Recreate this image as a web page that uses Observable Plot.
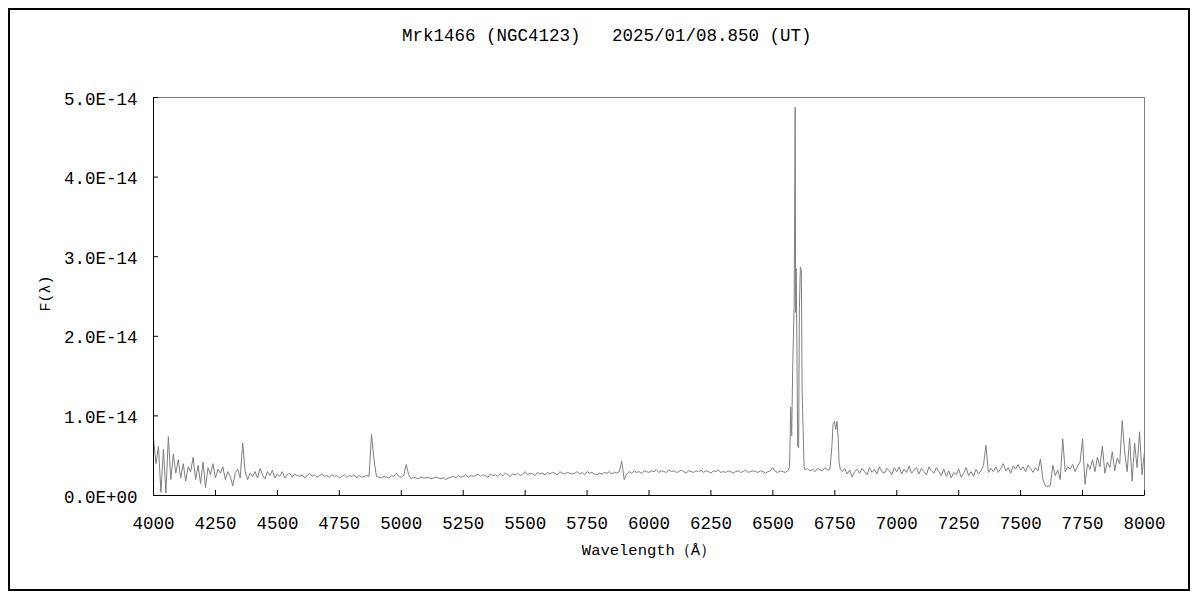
<!DOCTYPE html>
<html>
<head>
<meta charset="utf-8">
<script src="https://cdn.jsdelivr.net/npm/d3@7"></script>
<script src="https://cdn.jsdelivr.net/npm/@observablehq/plot@0.6"></script>
<style>
  html, body { margin: 0; padding: 0; background: #fff; }
  #wrap { position: relative; width: 1200px; height: 600px; overflow: hidden; }
  #border { position: absolute; left: 8px; top: 8px; width: 1178px; height: 579px; border: 2px solid #000; }
  #title { position: absolute; left: 402px; top: 28px; white-space: pre; line-height: 1;
           font-family: "Liberation Mono", "DejaVu Sans Mono", monospace; font-size: 17.5px; color: #000; }
  #chart { position: absolute; left: 0; top: 0; }
</style>
</head>
<body>
<div id="wrap">
  <div id="border"></div>
  <div id="chart"></div>
  <div id="title"></div>
</div>
<script>
// ---- data (flux in units of 1E-14) ----
const gridStart = 4000;      // continuum grid start (Å)
const gridStep = 10;         // grid sampling (Å)
const gridFlux = [
  0.72, 0.40, 0.62, 0.04, 0.58, 0.03, 0.74, 0.20, 0.52, 0.28,   // 4000
  0.45, 0.22, 0.40, 0.18, 0.36, 0.30, 0.48, 0.20, 0.38, 0.15,   // 4100
  0.42, 0.10, 0.35, 0.26, 0.40, 0.22, 0.33, 0.28, 0.36, 0.20,   // 4200
  0.30, 0.24, 0.12, 0.29, 0.33, 0.22, 0.66, 0.30, 0.20, 0.28,   // 4300
  0.24, 0.30, 0.22, 0.34, 0.26, 0.21, 0.30, 0.25, 0.32, 0.22,   // 4400
  0.27, 0.24, 0.30, 0.22, 0.26, 0.28, 0.23, 0.27, 0.25, 0.24,   // 4500
  0.26, 0.22, 0.25, 0.28, 0.24, 0.26, 0.23, 0.25, 0.27, 0.24,   // 4600
  0.25, 0.23, 0.26, 0.24, 0.25, 0.22, 0.24, 0.26, 0.23, 0.25,   // 4700
  0.24, 0.26, 0.22, 0.25, 0.23, 0.24, 0.25, 0.24, 0.77, 0.45,   // 4800
  0.24, 0.23, 0.22, 0.24, 0.23, 0.22, 0.25, 0.24, 0.28, 0.24,   // 4900
  0.23, 0.25, 0.39, 0.26, 0.21, 0.23, 0.22, 0.21, 0.23, 0.22,   // 5000
  0.22, 0.23, 0.21, 0.22, 0.23, 0.22, 0.21, 0.22, 0.20, 0.22,   // 5100
  0.23, 0.24, 0.22, 0.25, 0.23, 0.24, 0.26, 0.23, 0.25, 0.24,   // 5200
  0.25, 0.27, 0.24, 0.26, 0.25, 0.23, 0.27, 0.25, 0.26, 0.24,   // 5300
  0.27, 0.25, 0.28, 0.26, 0.24, 0.27, 0.26, 0.28, 0.25, 0.27,   // 5400
  0.30, 0.26, 0.28, 0.27, 0.25, 0.29, 0.27, 0.28, 0.26, 0.29,   // 5500
  0.27, 0.29, 0.28, 0.26, 0.30, 0.28, 0.27, 0.29, 0.28, 0.27,   // 5600
  0.28, 0.30, 0.27, 0.29, 0.26, 0.30, 0.28, 0.29, 0.27, 0.26,   // 5700
  0.28, 0.27, 0.29, 0.28, 0.30, 0.27, 0.29, 0.28, 0.30, 0.43,   // 5800
  0.20, 0.27, 0.30, 0.28, 0.31, 0.29, 0.30, 0.28, 0.31, 0.30,   // 5900
  0.29, 0.31, 0.30, 0.32, 0.29, 0.31, 0.30, 0.29, 0.32, 0.30,   // 6000
  0.31, 0.29, 0.30, 0.32, 0.30, 0.28, 0.31, 0.30, 0.29, 0.31,   // 6100
  0.30, 0.32, 0.29, 0.31, 0.30, 0.28, 0.31, 0.30, 0.32, 0.29,   // 6200
  0.30, 0.29, 0.31, 0.30, 0.28, 0.30, 0.31, 0.29, 0.30, 0.32,   // 6300
  0.29, 0.30, 0.31, 0.30, 0.29, 0.31, 0.30, 0.28, 0.30, 0.31,   // 6400
  0.35, 0.30, 0.29, 0.31, 0.30, 0.29, 0.31, null, null, null,   // 6500
  null, null, null, 0.32, 0.34, 0.31, 0.33, 0.30, 0.34, 0.32,   // 6600
  0.31, 0.35, 0.32, 0.33, null, null, null, null, 0.30, 0.34,   // 6700
  0.27, 0.32, 0.23, 0.30, 0.33, 0.28, 0.34, 0.30, 0.26, 0.35,   // 6800
  0.29, 0.33, 0.27, 0.36, 0.30, 0.28, 0.34, 0.31, 0.26, 0.35,   // 6900
  0.30, 0.36, 0.27, 0.33, 0.29, 0.37, 0.28, 0.32, 0.35, 0.27,   // 7000
  0.34, 0.30, 0.26, 0.36, 0.31, 0.28, 0.35, 0.30, 0.25, 0.33,   // 7100
  0.24, 0.31, 0.22, 0.29, 0.26, 0.33, 0.23, 0.28, 0.35, 0.25,   // 7200
  0.30, 0.24, 0.33, 0.27, 0.31, 0.38, 0.63, 0.29, 0.34, 0.30,   // 7300
  0.36, 0.29, 0.34, 0.40, 0.31, 0.35, 0.28, 0.37, 0.33, 0.39,   // 7400
  0.32, 0.36, 0.30, 0.38, 0.34, 0.29, 0.35, 0.31, 0.46, 0.20,   // 7500
  0.12, 0.11, 0.13, 0.38, 0.25, 0.32, 0.20, 0.71, 0.30, 0.36,   // 7600
  0.33, 0.39, 0.30, 0.37, 0.42, 0.71, 0.14, 0.40, 0.33, 0.45,   // 7700
  0.30, 0.48, 0.36, 0.62, 0.28, 0.42, 0.35, 0.55, 0.31, 0.47,   // 7800
  0.40, 0.94, 0.55, 0.30, 0.72, 0.18, 0.66, 0.35, 0.80, 0.26,   // 7900
  0.55                                                          // 8000
];
// H-alpha + [NII] complex (finely sampled)
const haWave = [6564, 6567, 6569, 6572, 6576, 6580, 6586, 6590, 6592, 6594, 6597, 6600, 6604, 6607, 6611, 6615, 6618, 6622, 6626];
const haFlux = [0.33, 0.36, 0.62, 1.11, 0.75, 1.60, 2.42, 4.88, 2.30, 2.85, 1.90, 0.62, 0.60, 2.35, 2.87, 2.82, 1.32, 0.84, 0.36];
// [SII] doublet
const siiWave = [6738, 6743, 6749, 6754, 6759, 6764, 6767, 6772];
const siiFlux = [0.60, 0.90, 0.93, 0.83, 0.93, 0.70, 0.42, 0.33];

const fluxUnit = 1e-14;
const xTicks = [4000, 4250, 4500, 4750, 5000, 5250, 5500, 5750, 6000, 6250, 6500, 6750, 7000, 7250, 7500, 7750, 8000];
const yTicks = [0, 1e-14, 2e-14, 3e-14, 4e-14, 5e-14];
const titleText = "Mrk1466 (NGC4123)   2025/01/08.850 (UT)";
const xLabel = "Wavelength（Å）";
const yLabel = "F(λ)";

// ---- build table ----
const spectrum = [];
gridFlux.forEach((f, i) => { if (f !== null) spectrum.push({w: gridStart + i * gridStep, f: f * fluxUnit}); });
haWave.forEach((w, i) => spectrum.push({w, f: haFlux[i] * fluxUnit}));
siiWave.forEach((w, i) => spectrum.push({w, f: siiFlux[i] * fluxUnit}));
spectrum.sort((a, b) => a.w - b.w);

function fmtE(d) {
  const [m, e] = d.toExponential(1).split("e");
  const n = Math.abs(+e);
  return m + "E" + (+e < 0 ? "-" : "+") + String(n).padStart(2, "0");
}

document.getElementById("title").textContent = titleText;

const font = "'Liberation Mono', 'DejaVu Sans Mono', monospace";
const chart = Plot.plot({
  width: 1200,
  height: 600,
  marginLeft: 153,
  marginRight: 56,
  marginTop: 97,
  marginBottom: 105,
  x: {domain: [4000, 8000]},
  y: {domain: [0, 5e-14]},
  style: {fontFamily: font, fontSize: "17.5px", color: "#000", background: "transparent"},
  marks: [
    Plot.frame({stroke: "#808080"}),
    Plot.line(spectrum, {x: "w", y: "f", stroke: "#808080", strokeWidth: 1}),
    Plot.ruleX([4000], {stroke: "#000"}),
    Plot.ruleY([0], {stroke: "#000"}),
    Plot.tickX(xTicks, {x: d => d, stroke: "#000", insetTop: 393}),
    Plot.tickY(yTicks, {y: d => d, stroke: "#000", insetRight: 986}),
    Plot.axisX(xTicks, {tickSize: 0, tickPadding: 21, tickFormat: d => String(d), label: null}),
    Plot.axisY(yTicks, {tickSize: 0, tickPadding: 16, dy: 1.5, tickFormat: fmtE, label: null}),
    Plot.text([xLabel], {text: d => d, frameAnchor: "bottom", dy: 59, fill: "#000", fontSize: 15.5, letterSpacing: "0.4px"}),
    Plot.text([yLabel], {text: d => d, frameAnchor: "left", textAnchor: "middle", dx: -108, dy: -3, rotate: -90, fill: "#000", fontSize: 15})
  ]
});
document.getElementById("chart").appendChild(chart);
</script>
</body>
</html>
